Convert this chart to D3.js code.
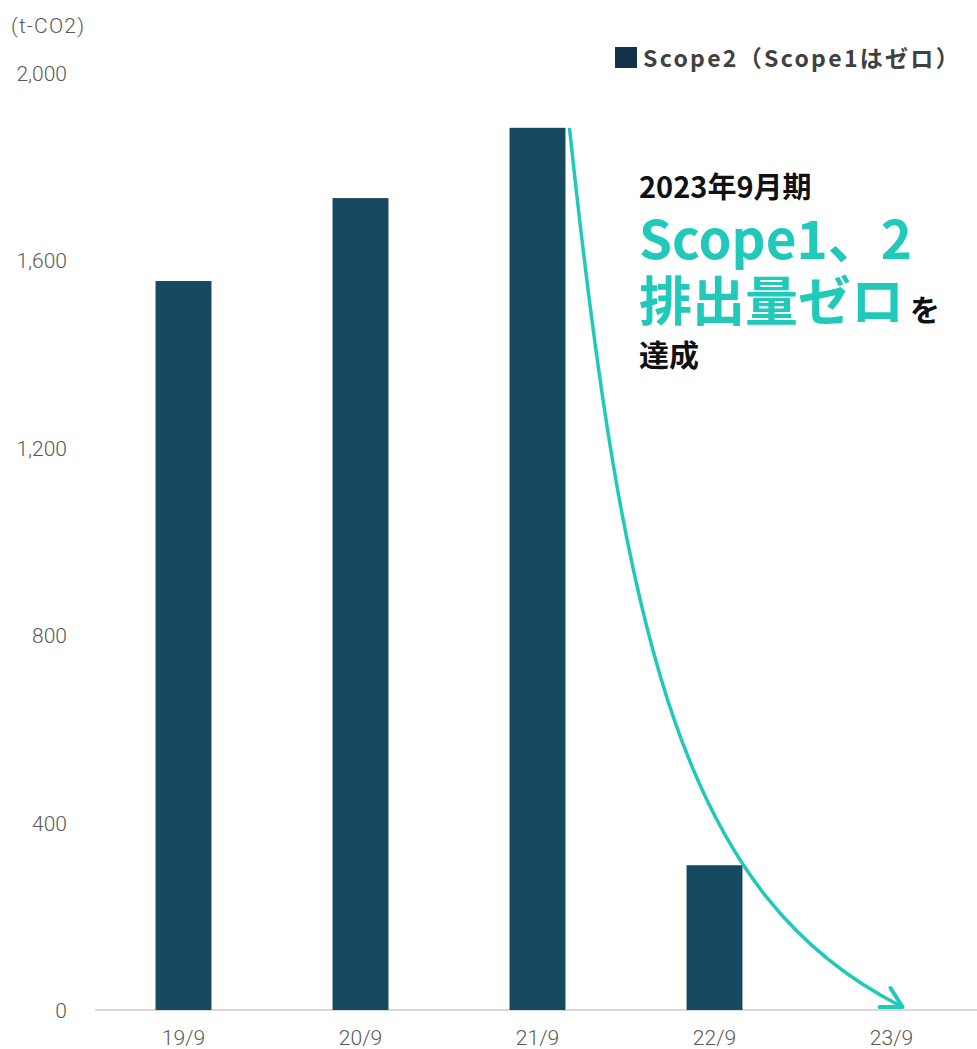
<!DOCTYPE html>
<html>
<head>
<meta charset="utf-8">
<script src="https://cdn.jsdelivr.net/npm/d3@7"></script>
<style>
body { margin: 0; background: #fff; }
text { font-family: "Noto Sans CJK JP", "Noto Sans", sans-serif; }
.tick-text { font-family: "Roboto", sans-serif; font-weight: 300; fill: #595959; font-size: 21px; }
</style>
</head>
<body>
<div class="chart"></div>
<script>
let periods = ["19/9", "20/9", "21/9", "22/9", "23/9"];
let scope2 = [1556, 1733, 1883, 309, 0];
let yTicks = [0, 400, 800, 1200, 1600, 2000];

let svgWidth = 977;
let svgHeight = 1049;
let svg = d3.select(".chart")
    .append("svg")
    .attr("width", svgWidth)
    .attr("height", svgHeight);

let xScale = d3.scaleBand()
    .domain(periods)
    .range([95, 980])
    .paddingInner(0.684)
    .paddingOuter(0.342);

let yScale = d3.scaleLinear()
    .domain([0, 2000])
    .range([1010, 73]);

// axis baseline
svg.append("line")
    .attr("x1", 95)
    .attr("x2", 977)
    .attr("y1", yScale(0))
    .attr("y2", yScale(0))
    .attr("stroke", "#d9d9d9")
    .attr("stroke-width", 2);

// y tick labels
svg.selectAll(".ylab")
    .data(yTicks)
    .enter()
    .append("text")
    .attr("class", "tick-text")
    .attr("x", 67)
    .attr("y", d => yScale(d) + 8)
    .attr("text-anchor", "end")
    .text(d => d3.format(",")(d));

// x tick labels
svg.selectAll(".xlab")
    .data(periods)
    .enter()
    .append("text")
    .attr("class", "tick-text")
    .attr("x", d => xScale(d) + xScale.bandwidth() / 2)
    .attr("y", 1045)
    .attr("text-anchor", "middle")
    .text(d => d);

svg.append("text")
    .attr("class", "tick-text")
    .attr("x", 11)
    .attr("y", 33)
    .style("letter-spacing", "1.2px")
    .text("(t-CO2)");

// bars
svg.selectAll(".bar")
    .data(periods.map((p, i) => ({period: p, value: scope2[i]})))
    .enter()
    .append("rect")
    .attr("x", d => xScale(d.period))
    .attr("y", d => yScale(d.value))
    .attr("width", xScale.bandwidth())
    .attr("height", d => yScale(0) - yScale(d.value))
    .attr("fill", "#164a61");

// legend
svg.append("rect")
    .attr("x", 615)
    .attr("y", 47)
    .attr("width", 22)
    .attr("height", 21)
    .attr("fill", "#12324a");
svg.append("text")
    .attr("x", 643)
    .attr("y", 67)
    .attr("fill", "#404040")
    .style("font-size", "23px")
    .style("font-weight", "bold")
    .style("letter-spacing", "2.3px")
    .text("Scope2（Scope1はゼロ）");

// arrow from 21/9 bar down to 23/9
let teal = "#20c9b9";
let x0 = xScale("21/9") + xScale.bandwidth() + 4;
let y0 = yScale(scope2[2]);
let x1 = xScale("23/9") + xScale.bandwidth() / 2 + 11;
let y1 = yScale(0) - 3;
let path = d3.path();
path.moveTo(x0, y0);
path.bezierCurveTo(x0 + 55, y0 + 520, x0 + 115, y0 + 770, x1, y1);
svg.append("path")
    .attr("d", path.toString())
    .attr("fill", "none")
    .attr("stroke", teal)
    .attr("stroke-width", 3.5);
svg.append("path")
    .attr("d", `M${x1 - 12},${y1 - 19} L${x1},${y1} L${x1 - 23},${y1}`)
    .attr("fill", "none")
    .attr("stroke", teal)
    .attr("stroke-width", 4)
    .attr("stroke-linecap", "round")
    .attr("stroke-linejoin", "round");

// annotation
let note = svg.append("g");
note.append("text")
    .attr("x", 639)
    .attr("y", 198)
    .attr("fill", "#111")
    .style("font-size", "29px")
    .style("font-weight", "bold")
    .text("2023年9月期");
note.append("text")
    .attr("x", 639)
    .attr("y", 259)
    .attr("fill", teal)
    .style("font-size", "53px")
    .style("font-weight", "bold")
    .text("Scope1、2");
let line3 = note.append("text")
    .attr("x", 639)
    .attr("y", 321)
    .style("font-weight", "bold");
line3.append("tspan")
    .attr("fill", teal)
    .style("font-size", "53px")
    .text("排出量ゼロ");
line3.append("tspan")
    .attr("fill", "#111")
    .attr("dx", 6)
    .style("font-size", "30px")
    .text("を");
note.append("text")
    .attr("x", 639)
    .attr("y", 366)
    .attr("fill", "#111")
    .style("font-size", "30px")
    .style("font-weight", "bold")
    .text("達成");
</script>
</body>
</html>
